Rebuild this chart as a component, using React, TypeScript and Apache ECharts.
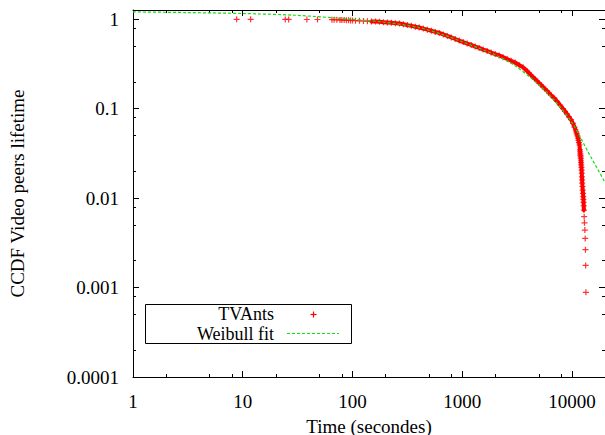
import React, { useEffect, useRef } from "react";
import * as echarts from "echarts";

const lifetimes = [
  8.8, 11.8, 24.4, 26.2, 38.4, 48, 65, 68, 72, 77, 80, 84, 88, 92, 96, 100,
  106.5, 115.8, 125.9, 136.9, 148.9, 161.9, 176, 191.4, 208.1, 226.3, 246, 267.5,
  291, 316, 344, 374, 406, 442, 481, 523, 568, 618, 672, 731, 795, 864, 939,
  1021, 1110, 1207, 1313, 1428, 1552, 1688, 1835, 1995, 2170, 2360, 2566, 2790,
  3033, 3298, 3586, 3899, 4240, 4610, 5012, 5450, 5926, 6443, 6860, 7305, 7778,
  8283, 8630, 9010, 9390, 9790, 10210, 10540, 10810, 10940, 11070, 11210, 11350,
  11470, 11590, 11700, 11830, 11870, 11910, 11950, 12000, 12040, 12080, 12110,
  12140, 12200, 12250, 12290, 12330, 12370, 12400, 12470, 12540, 12610, 12670,
  12710, 12750, 12800, 12850, 12920, 13000, 13100, 13200, 13270, 13330, 13400,
];
const ccdf = [
  0.999, 0.998, 0.997, 0.996, 0.995, 0.994, 0.99, 0.988, 0.986, 0.984, 0.982, 0.98, 0.978, 0.975, 0.972, 0.97,
  0.966, 0.961, 0.957, 0.952, 0.947, 0.943, 0.938, 0.929, 0.921, 0.913, 0.905, 0.898,
  0.879, 0.861, 0.844, 0.826, 0.81, 0.787, 0.765, 0.744, 0.723, 0.703, 0.676, 0.651, 0.626, 0.602, 0.579,
  0.557, 0.536, 0.516, 0.496, 0.478, 0.459, 0.442, 0.425, 0.409, 0.394, 0.377, 0.36, 0.344,
  0.328, 0.308, 0.29, 0.264, 0.238, 0.215, 0.194, 0.175, 0.158, 0.142, 0.132, 0.121, 0.11,
  0.1, 0.0935, 0.0872, 0.0811, 0.0755, 0.0685, 0.0623, 0.0578, 0.055, 0.0524, 0.0497, 0.047,
  0.0443, 0.0417, 0.0393, 0.0346, 0.0329, 0.0313, 0.0301, 0.029, 0.0276, 0.0262, 0.0249,
  0.0236, 0.0221, 0.0206, 0.019, 0.0173, 0.016, 0.0147, 0.0135, 0.0123, 0.0113, 0.0104,
  0.0097, 0.00895, 0.0082, 0.00736, 0.0062, 0.0053, 0.0044, 0.00354, 0.00265, 0.00177, 0.000885,
];
// where the measured points merge into a solid band
const bandStart = 148;
const bandEnd = 12850;

// Weibull fit curve
const fitTime = [1, 3, 10, 30, 100, 200, 400, 700, 1000, 2000, 3000, 5000, 7000, 10000, 14000, 20000];
const fitCcdf = [1.21, 1.19, 1.16, 1.11, 1.0, 0.925, 0.81, 0.66, 0.56, 0.4, 0.305, 0.185, 0.122, 0.07, 0.033, 0.015];

// Tick values
const xMajor = [1, 10, 100, 1000, 10000];
const xMinor = [2, 5, 8, 20, 50, 80, 200, 500, 800, 2000, 5000, 8000];
const yMajor = [0.0001, 0.001, 0.01, 0.1, 1];
const yMinor = [0.0002, 0.0005, 0.0008, 0.002, 0.005, 0.008, 0.02, 0.05, 0.08, 0.2, 0.5, 0.8];

const FONT = "'Liberation Serif', 'Times New Roman', Times, serif";
const PLUS = "path://M4,0H6V4H10V6H6V10H4V6H0V4H4Z";
const RED = "#ff0000";
const GREEN = "#10e010";

export default function App() {
  const ref = useRef<HTMLDivElement>(null);
  useEffect(() => {
    if (!ref.current) return;
    const chart = echarts.init(ref.current, null, { renderer: "svg" });
    const X_MIN = 1, X_MAX = 20000, Y_MIN = 0.0001, Y_MAX = 1.27;
    const lineStyle = { color: "#000", width: 1 };
    const mkX = (position: string, major: boolean, main: boolean) => ({
      type: "log",
      logBase: 10,
      min: X_MIN,
      max: X_MAX,
      position,
      splitLine: { show: false },
      axisLine: { show: major, onZero: false, lineStyle },
      axisTick: { show: true, inside: true, length: major ? 6 : 3, customValues: major ? xMajor : xMinor, lineStyle },
      axisLabel: main
        ? { show: true, customValues: xMajor, formatter: (v: number) => String(v), fontFamily: FONT, fontSize: 19, color: "#000", margin: 15 }
        : { show: false },
      name: main ? "Time (secondes)" : "",
      nameLocation: "middle",
      nameGap: 41,
      nameMoveOverlap: false,
      nameTextStyle: { fontFamily: FONT, fontSize: 19, lineHeight: 16, color: "#000" },
    });
    const mkY = (position: string, major: boolean, main: boolean) => ({
      type: "log",
      logBase: 10,
      min: Y_MIN,
      max: Y_MAX,
      position,
      splitLine: { show: false },
      axisLine: { show: major, onZero: false, lineStyle },
      axisTick: { show: true, inside: true, length: major ? 6 : 3, customValues: major ? yMajor : yMinor, lineStyle },
      axisLabel: main
        ? { show: true, customValues: yMajor, formatter: (v: number) => String(v), fontFamily: FONT, fontSize: 19, color: "#000", margin: 14, padding: [4, 0, 0, 0] }
        : { show: false },
      name: main ? "CCDF Video peers lifetime" : "",
      nameLocation: "middle",
      nameGap: 106,
      nameMoveOverlap: false,
      nameTextStyle: { fontFamily: FONT, fontSize: 19, color: "#000" },
    });

    const points = lifetimes.map((t, i) => [t, ccdf[i]]);
    const band = points.filter((p) => p[0] >= bandStart && p[0] <= bandEnd);

    chart.setOption({
      animation: false,
      backgroundColor: "#fff",
      textStyle: { fontFamily: FONT },
      grid: { left: 133, right: 0, top: 10, bottom: 58, containLabel: false, outerBoundsMode: "none" },
      xAxis: [mkX("bottom", true, true), mkX("bottom", false, false), mkX("top", true, false), mkX("top", false, false)],
      yAxis: [mkY("left", true, true), mkY("left", false, false), mkY("right", true, false), mkY("right", false, false)],
      series: [
        {
          name: "TVAnts band",
          type: "line",
          xAxisIndex: 0,
          yAxisIndex: 0,
          showSymbol: false,
          silent: true,
          lineStyle: { color: RED, width: 4, join: "round", cap: "round" },
          data: band,
        },
        {
          name: "TVAnts",
          type: "scatter",
          xAxisIndex: 0,
          yAxisIndex: 0,
          symbol: PLUS,
          symbolSize: 6,
          itemStyle: { color: RED },
          data: points,
        },
        {
          name: "Weibull fit",
          type: "line",
          xAxisIndex: 0,
          yAxisIndex: 0,
          showSymbol: false,
          smooth: 0.3,
          lineStyle: { color: GREEN, width: 1.2, type: [3, 2] },
          data: fitTime.map((t, i) => [t, fitCcdf[i]]),
        },
      ],
      graphic: [
        {
          type: "group",
          z: 100,
          children: [
            { type: "rect", shape: { x: 145.5, y: 304.5, width: 206, height: 39 }, style: { fill: "#fff", stroke: "#000", lineWidth: 1 } },
            { type: "text", x: 274, y: 314, style: { text: "TVAnts", fontFamily: FONT, fontSize: 18, lineHeight: 18, fill: "#000", align: "right", verticalAlign: "middle" } },
            { type: "text", x: 274, y: 333.5, style: { text: "Weibull fit", fontFamily: FONT, fontSize: 18, lineHeight: 18, fill: "#000", align: "right", verticalAlign: "middle" } },
            { type: "line", shape: { x1: 310.5, y1: 314.5, x2: 316.5, y2: 314.5 }, style: { stroke: RED, lineWidth: 1.2 } },
            { type: "line", shape: { x1: 313.5, y1: 311.5, x2: 313.5, y2: 317.5 }, style: { stroke: RED, lineWidth: 1.2 } },
            { type: "line", shape: { x1: 287, y1: 333.5, x2: 339, y2: 333.5 }, style: { stroke: GREEN, lineWidth: 1.2, lineDash: [3, 2] } },
          ],
        },
      ],
    });
    return () => chart.dispose();
  }, []);
  return <div ref={ref} style={{ position: "absolute", left: 0, top: 0, width: 605, height: 435 }} />;
}
